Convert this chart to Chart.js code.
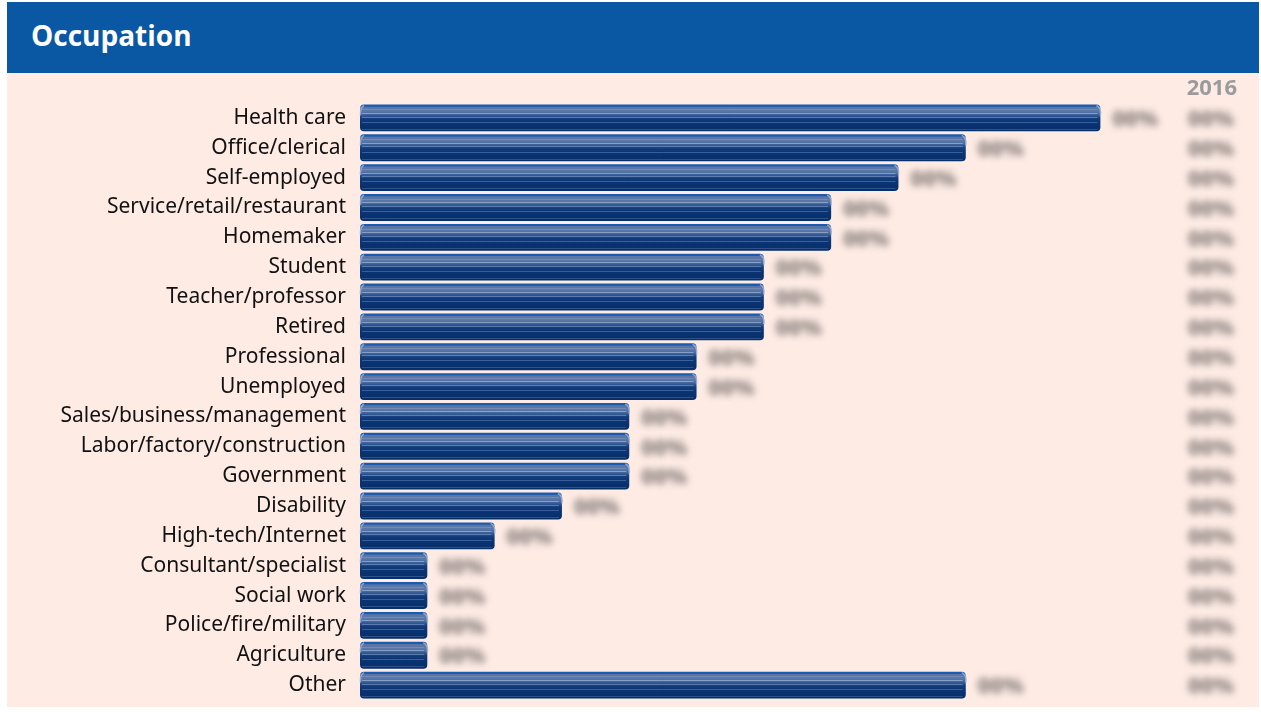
<!DOCTYPE html>
<html>
<head>
<meta charset="utf-8">
<title>Occupation</title>
<script src="https://cdn.jsdelivr.net/npm/chart.js@4/dist/chart.umd.min.js"></script>
<style>
  html, body { margin: 0; padding: 0; background: #ffffff; }
  body { width: 1261px; height: 712px; position: relative; overflow: hidden; }
  #header {
    position: absolute; left: 7px; top: 2px; width: 1252px; height: 71px;
    background: #0a57a4; color: #ffffff;
    font-family: "Open Sans", "Noto Sans", sans-serif; font-weight: 700; font-size: 28px;
    line-height: 66px; padding-left: 24px; box-sizing: border-box;
  }
  #panel {
    position: absolute; left: 7px; top: 73px; width: 1252px; height: 634px;
    background: #fdebe4;
  }
  canvas { display: block; }
</style>
</head>
<body>
<div id="header">Occupation</div>
<div id="panel"><canvas id="chart" width="1252" height="634"></canvas></div>
<script>
// Survey responses by occupation (percent of respondents)
const categories = [
  "Health care", "Office/clerical", "Self-employed", "Service/retail/restaurant",
  "Homemaker", "Student", "Teacher/professor", "Retired", "Professional",
  "Unemployed", "Sales/business/management", "Labor/factory/construction",
  "Government", "Disability", "High-tech/Internet", "Consultant/specialist",
  "Social work", "Police/fire/military", "Agriculture", "Other"
];
const shares = [11, 9, 8, 7, 7, 6, 6, 6, 5, 5, 4, 4, 4, 3, 2, 1, 1, 1, 1, 9];
// Figures are masked in this release: every value cell shows a placeholder
const maskedLabel = "00%";
const comparisonYear = "2016";

const FONT = '"Noto Sans", "Open Sans", sans-serif';
const BAR_PCT = 0.9;

// Vertical "tube" shading, positioned from the category scale for each bar
function barGradient(ctx) {
  const chart = ctx.chart;
  const y = chart.scales && chart.scales.y;
  const area = chart.chartArea;
  if (!y || !area) return '#0b3473';
  const row = (area.bottom - area.top) / categories.length;
  const h = row * BAR_PCT;
  const cy = y.getPixelForValue(ctx.dataIndex);
  const top = cy - h / 2, bot = cy + h / 2;
  const g = chart.ctx.createLinearGradient(0, top, 0, bot);
  g.addColorStop(0.00, '#1a5ab0');
  g.addColorStop(0.07, '#1a5ab0');
  g.addColorStop(0.10, '#5b76a5');
  g.addColorStop(0.25, '#5a78a8');
  g.addColorStop(0.34, '#4a6a9f');
  g.addColorStop(0.43, '#2c5592');
  g.addColorStop(0.52, '#133d7b');
  g.addColorStop(0.66, '#0b3473');
  g.addColorStop(1.00, '#062e69');
  return g;
}

// Fine highlight lines across each bar, plus a lighter rim at the rounded ends
const barStripes = {
  id: 'barStripes',
  afterDatasetsDraw(chart) {
    const ctx = chart.ctx;
    const meta = chart.getDatasetMeta(0);
    ctx.save();
    meta.data.forEach(bar => {
      const h = bar.height;
      const top = bar.y - h / 2;
      const x0 = bar.base + 2, x1 = bar.x - 3;
      const lines = [[0.18, 'rgba(150,170,205,0.4)'], [0.31, 'rgba(200,212,232,0.5)'],
                     [0.45, 'rgba(140,165,210,0.55)'], [0.64, 'rgba(95,130,190,0.55)'],
                     [0.90, 'rgba(95,125,180,0.45)']];
      ctx.lineWidth = 1;
      lines.forEach(([f, c]) => {
        ctx.strokeStyle = c;
        ctx.beginPath();
        const y = Math.round(top + f * h) + 0.5;
        ctx.moveTo(x0, y); ctx.lineTo(x1, y);
        ctx.stroke();
      });
      ctx.strokeStyle = 'rgba(150,178,220,0.85)';
      ctx.lineWidth = 1.5;
      ctx.beginPath();
      ctx.moveTo(bar.x - 4, top + 1);
      ctx.quadraticCurveTo(bar.x + 1, top + 3, bar.x, top + h * 0.4);
      ctx.stroke();
      ctx.beginPath();
      ctx.moveTo(bar.base + 4, top + 1);
      ctx.quadraticCurveTo(bar.base, top + 3, bar.base + 0.5, top + h * 0.4);
      ctx.stroke();
    });
    ctx.restore();
  }
};

// Masked value cells beside each bar and in the comparison column
const valueCells = {
  id: 'valueCells',
  afterDraw(chart) {
    const ctx = chart.ctx;
    const area = chart.chartArea;
    const meta = chart.getDatasetMeta(0);
    ctx.save();
    ctx.font = '700 22px ' + FONT;
    ctx.fillStyle = '#9a9b9d';
    ctx.textAlign = 'right';
    ctx.textBaseline = 'middle';
    ctx.fillText(comparisonYear, area.right + 2, area.top - 14);
    ctx.filter = 'blur(3.5px)';
    ctx.fillStyle = '#847a77';
    ctx.font = '800 22px ' + FONT;
    ctx.textAlign = 'left';
    meta.data.forEach(bar => {
      ctx.fillText(maskedLabel, bar.x + 12, bar.y + 2);
      ctx.fillText(maskedLabel, area.right - 47, bar.y + 2);
    });
    ctx.restore();
  }
};

new Chart(document.getElementById('chart'), {
  type: 'bar',
  data: {
    labels: categories,
    datasets: [{
      data: shares,
      backgroundColor: barGradient,
      borderWidth: 0,
      borderRadius: 4,
      borderSkipped: false,
      barPercentage: BAR_PCT,
      categoryPercentage: 1.0
    }]
  },
  options: {
    indexAxis: 'y',
    responsive: false,
    animation: false,
    events: [],
    layout: { padding: { top: 30, bottom: 7, right: 24, left: 0 } },
    plugins: { legend: { display: false }, tooltip: { enabled: false }, title: { display: false } },
    scales: {
      x: { display: false, min: 0, max: 13 },
      y: {
        grid: { display: false, drawTicks: false },
        border: { display: false },
        ticks: { color: '#111111', font: { family: FONT, size: 21 }, padding: 14, autoSkip: false },
        afterFit(scale) {
          scale.width = 353;
          scale.paddingTop = 0;
          scale.paddingBottom = 0;
        }
      }
    }
  },
  plugins: [barStripes, valueCells]
});
</script>
</body>
</html>
